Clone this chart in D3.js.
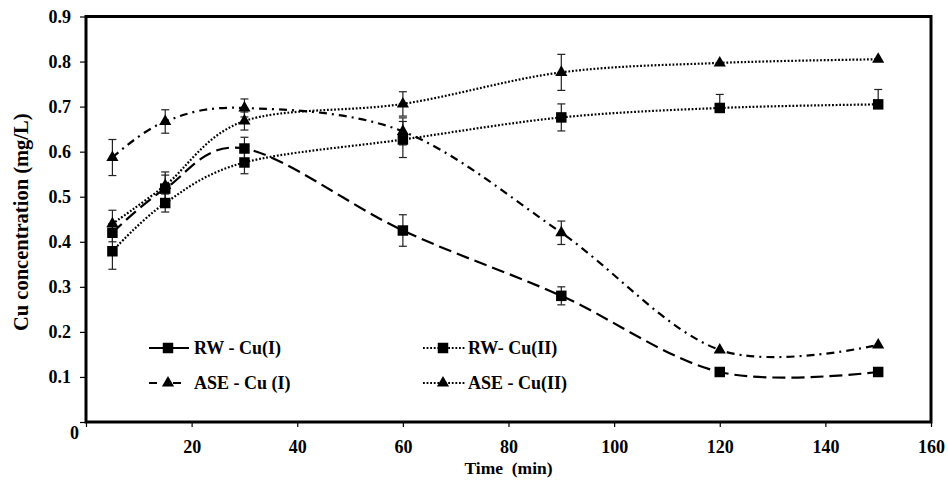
<!DOCTYPE html>
<html>
<head>
<meta charset="utf-8">
<script src="https://cdn.jsdelivr.net/npm/d3@7"></script>
<style>
  body { margin: 0; background: #fff; }
  svg text { font-family: 'Liberation Serif', 'Times New Roman', serif; font-weight: bold; fill: #000; }
</style>
</head>
<body>
<svg id="chart" width="948" height="484"></svg>
<script>
// sampling times (min)
const times = [5, 15, 30, 60, 90, 120, 150];

// Cu concentration (mg/L)
const rwCu1 = [0.42, 0.518, 0.607, 0.425, 0.28, 0.111, 0.111];
const rwCu2 = [0.379, 0.486, 0.576, 0.627, 0.676, 0.697, 0.705];
const aseCu1 = [0.587, 0.667, 0.697, 0.645, 0.42, 0.16, 0.171];
const aseCu2 = [0.44, 0.525, 0.668, 0.706, 0.776, 0.797, 0.805];

// error bars (upper / lower half-lengths)
const rwCu1Err = [0.02, 0.03, 0.025, 0.035, 0.02, 0, 0];
const rwCu2ErrUp = [0.04, 0.02, 0.025, 0.04, 0.03, 0.03, 0.033];
const rwCu2ErrDown = [0.04, 0.02, 0.025, 0.04, 0.03, 0, 0];
const aseCu1Err = [0.04, 0.026, 0.02, 0.03, 0.026, 0, 0];
const aseCu2Err = [0.03, 0.03, 0.02, 0.027, 0.04, 0, 0];

const xTicks = [0, 20, 40, 60, 80, 100, 120, 140, 160];
const yTicks = [0, 0.1, 0.2, 0.3, 0.4, 0.5, 0.6, 0.7, 0.8, 0.9];

const series = [
  { name: 'RW - Cu(I)', values: rwCu1, up: rwCu1Err, down: rwCu1Err,
    marker: 'square', dash: '13,6', legendDash: null },
  { name: 'ASE - Cu (I)', values: aseCu1, up: aseCu1Err, down: aseCu1Err,
    marker: 'triangle', dash: '8,5,2,5', legendDash: '8,16' },
  { name: 'RW- Cu(II)', values: rwCu2, up: rwCu2ErrUp, down: rwCu2ErrDown,
    marker: 'square', dash: '1.8,1.8', legendDash: '1.8,1.8' },
  { name: 'ASE - Cu(II)', values: aseCu2, up: aseCu2Err, down: aseCu2Err,
    marker: 'triangle', dash: '1.8,1.8', legendDash: '1.8,1.8' }
];

const plot = { left: 86, right: 931, top: 16.5, bottom: 422 };

const x = d3.scaleLinear().domain([0, 160]).range([plot.left, plot.right]);
const y = d3.scaleLinear().domain([0, 0.9]).range([plot.bottom, plot.top]);

const svg = d3.select('#chart');

const squareSym = d3.symbol().type(d3.symbolSquare).size(110);
const triangleSym = d3.symbol().type(d3.symbolTriangle).size(64);
const markerPath = m => (m === 'square' ? squareSym() : triangleSym());

// axes
const yAxis = svg.append('g')
  .attr('transform', `translate(${plot.left},0)`)
  .call(d3.axisLeft(y)
    .tickValues(yTicks)
    .tickSize(6)
    .tickPadding(9)
    .tickFormat(d => (d === 0 ? '0' : d.toFixed(1))));
yAxis.select('.domain').remove();
yAxis.selectAll('.tick line').attr('stroke', '#000').attr('stroke-width', 1.2);
yAxis.selectAll('.tick text')
  .style('font-size', '18px')
  .attr('fill', '#000')
  .filter(d => d === 0)
  .attr('transform', 'translate(8,11)');

const xAxis = svg.append('g')
  .attr('transform', `translate(0,${plot.bottom})`)
  .call(d3.axisBottom(x)
    .tickValues(xTicks)
    .tickSize(5)
    .tickPadding(13)
    .tickFormat(d => (d === 0 ? '' : d)));
xAxis.select('.domain').remove();
xAxis.selectAll('.tick line').attr('stroke', '#000').attr('stroke-width', 1.2);
xAxis.selectAll('.tick text').style('font-size', '18px').attr('fill', '#000');

// plot frame
svg.append('rect')
  .attr('x', plot.left)
  .attr('y', plot.top)
  .attr('width', plot.right - plot.left)
  .attr('height', plot.bottom - plot.top)
  .attr('fill', 'none')
  .attr('stroke', '#000')
  .attr('stroke-width', 3);

// axis titles
svg.append('text')
  .attr('transform', `translate(28,${(plot.top + plot.bottom) / 2 + 3}) rotate(-90)`)
  .attr('text-anchor', 'middle')
  .style('font-size', '20.5px')
  .text('Cu concentration (mg/L)');

svg.append('text')
  .attr('x', (plot.left + plot.right) / 2)
  .attr('y', 474)
  .attr('text-anchor', 'middle')
  .attr('xml:space', 'preserve')
  .style('font-size', '17.5px')
  .text('Time  (min)');

// curves
const line = d3.line()
  .x((d, i) => x(times[i]))
  .y(d => y(d))
  .curve(d3.curveCardinal.tension(0));

const curves = svg.append('g');
series.forEach(s => {
  curves.append('path')
    .attr('d', line(s.values))
    .attr('fill', 'none')
    .attr('stroke', '#000')
    .attr('stroke-width', 2.2)
    .attr('stroke-dasharray', s.dash);
});

// error bars
const bars = svg.append('g').attr('stroke', '#222').attr('stroke-width', 1.2);
series.forEach(s => {
  s.values.forEach((v, i) => {
    const cx = x(times[i]);
    const hi = y(v + s.up[i]);
    const lo = y(v - s.down[i]);
    if (s.up[i] > 0) {
      bars.append('line').attr('x1', cx).attr('x2', cx).attr('y1', y(v)).attr('y2', hi);
      bars.append('line').attr('x1', cx - 4).attr('x2', cx + 4).attr('y1', hi).attr('y2', hi);
    }
    if (s.down[i] > 0) {
      bars.append('line').attr('x1', cx).attr('x2', cx).attr('y1', y(v)).attr('y2', lo);
      bars.append('line').attr('x1', cx - 4).attr('x2', cx + 4).attr('y1', lo).attr('y2', lo);
    }
  });
});

// markers
series.forEach(s => {
  svg.append('g')
    .selectAll('path')
    .data(s.values)
    .join('path')
    .attr('d', markerPath(s.marker))
    .attr('transform', (d, i) => `translate(${x(times[i])},${y(d)})`)
    .attr('fill', '#000');
});

// legend
const legendCols = [149, 423];
const legendRows = [348, 383];
const legend = svg.append('g');
series.forEach((s, i) => {
  const col = Math.floor(i / 2);
  const row = i % 2;
  const g = legend.append('g')
    .attr('transform', `translate(${legendCols[col]},${legendRows[row]})`);
  g.append('line')
    .attr('x1', 0).attr('x2', col === 0 ? 40 : 42)
    .attr('y1', 0).attr('y2', 0)
    .attr('stroke', '#000')
    .attr('stroke-width', 2.2)
    .attr('stroke-dasharray', s.legendDash);
  g.append('path')
    .attr('d', markerPath(s.marker))
    .attr('transform', `translate(${col === 0 ? 19 : 20},0)`)
    .attr('fill', '#000');
  g.append('text')
    .attr('x', 45)
    .attr('y', 6)
    .style('font-size', '18px')
    .text(s.name);
});
</script>
</body>
</html>
